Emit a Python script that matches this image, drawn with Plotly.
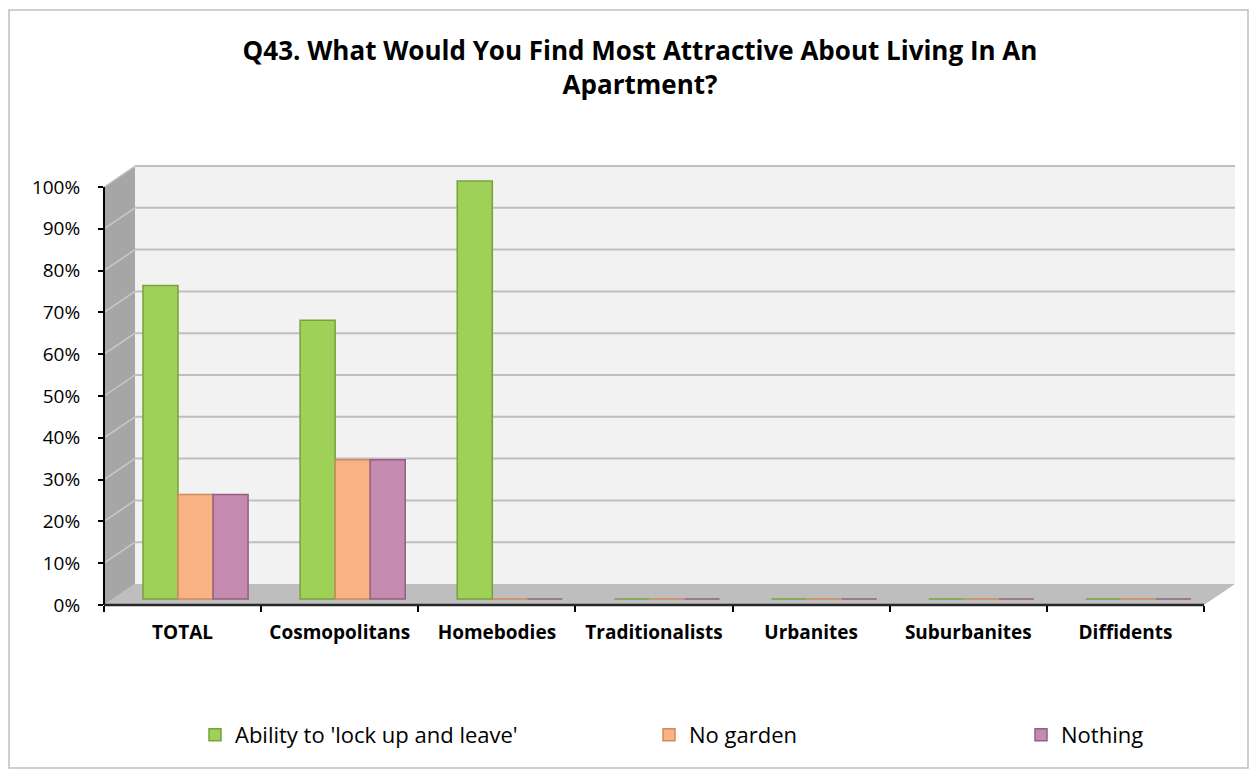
import plotly.graph_objects as go

# ---------------- data ----------------
categories = ["TOTAL", "Cosmopolitans", "Homebodies", "Traditionalists",
              "Urbanites", "Suburbanites", "Diffidents"]
series_names = ["Ability to 'lock up and leave'", "No garden", "Nothing"]
lock_up_and_leave = [0.75, 0.667, 1.0, 0, 0, 0, 0]
no_garden = [0.25, 0.333, 0, 0, 0, 0, 0]
nothing = [0.25, 0.333, 0, 0, 0, 0, 0]
y_tick_values = [0, 0.1, 0.2, 0.3, 0.4, 0.5, 0.6, 0.7, 0.8, 0.9, 1.0]
title_text = "Q43. What Would You Find Most Attractive About Living In An<br>Apartment?"

# ---------------- styling ----------------
PAGE_W, PAGE_H = 1257, 776
BODY = 8                                   # default html body margin
W, H = PAGE_W - BODY, PAGE_H - BODY        # figure size so it fits the window
L, R, T, B = 104, 1235, 165, 605           # plot area in page pixels
UNIT = 418.0                               # pixels per 100%
DEPTH_X, DEPTH_Y = 31, 21                  # 3-D wall offset
BAR_LIFT = 6                               # bars stand slightly behind front edge
FONT = "Open Sans"

face_colors = ["#9FD058", "#F8B283", "#C48AB0"]
edge_colors = ["#76A23A", "#CF8A5E", "#93617F"]
bar_width = 0.223
bar_offsets = [-0.252, -0.029, 0.194]
legend_x_px = [195, 649, 1021]
legend_y_px = 735


def px(x):
    return (x - L) / (R - L)


def py(y):
    return (B - y) / (B - T)


lift = BAR_LIFT / UNIT
y_span = (B - T) / UNIT

fig = go.Figure()
values = [lock_up_and_leave, no_garden, nothing]
for i, (name, vals) in enumerate(zip(series_names, values)):
    fig.add_trace(go.Bar(
        x=categories, y=vals, name=name,
        width=bar_width, offset=bar_offsets[i],
        marker=dict(color=face_colors[i], line=dict(color=edge_colors[i], width=1.5)),
        legend="legend" if i == 0 else f"legend{i + 1}",
        showlegend=True,
        hovertemplate="%{x}: %{y:.0%}<extra>" + name + "</extra>",
    ))

shapes = []
# back wall
shapes.append(dict(type="rect", xref="paper", yref="paper", layer="below",
                   x0=px(L + DEPTH_X), x1=px(R), y0=py(B - DEPTH_Y), y1=py(T),
                   fillcolor="#F2F2F2", line=dict(width=0)))
# floor
shapes.append(dict(type="path", xref="paper", yref="paper", layer="below",
                   path=f"M {px(L)},{py(B)} L {px(R - DEPTH_X)},{py(B)} "
                        f"L {px(R)},{py(B - DEPTH_Y)} L {px(L + DEPTH_X)},{py(B - DEPTH_Y)} Z",
                   fillcolor="#BEBEBE", line=dict(width=0)))
# side wall
top_px = B - UNIT
shapes.append(dict(type="path", xref="paper", yref="paper", layer="below",
                   path=f"M {px(L)},{py(B)} L {px(L + DEPTH_X)},{py(B - DEPTH_Y)} "
                        f"L {px(L + DEPTH_X)},{py(top_px - DEPTH_Y)} L {px(L)},{py(top_px)} Z",
                   fillcolor="#A6A6A6", line=dict(width=0)))
# grid lines on back wall and side wall
for v in y_tick_values[1:]:
    yp = B - v * UNIT
    shapes.append(dict(type="line", xref="paper", yref="paper", layer="below",
                       x0=px(L + DEPTH_X), x1=px(R), y0=py(yp - DEPTH_Y), y1=py(yp - DEPTH_Y),
                       line=dict(color="#BFBFBF", width=2)))
    shapes.append(dict(type="line", xref="paper", yref="paper", layer="below",
                       x0=px(L), x1=px(L + DEPTH_X), y0=py(yp), y1=py(yp - DEPTH_Y),
                       line=dict(color="#C9C9C9", width=1.5)))
# axis lines
shapes.append(dict(type="line", xref="paper", yref="paper", layer="above",
                   x0=0, x1=0, y0=py(B), y1=py(top_px),
                   line=dict(color="#000000", width=2)))
shapes.append(dict(type="line", xref="paper", yref="paper", layer="above",
                   x0=px(L), x1=px(R - DEPTH_X), y0=0, y1=0,
                   line=dict(color="#262626", width=2.5)))
# outer chart border
shapes.append(dict(type="rect", xref="paper", yref="paper", layer="above",
                   x0=px(9), x1=px(1248), y0=py(768), y1=py(10),
                   line=dict(color="#C0C0C0", width=1.5), fillcolor="rgba(0,0,0,0)"))

cat_px = (R - DEPTH_X - L) / len(categories)
x_range = [-0.5, -0.5 + (R - L) / cat_px]

legend_common = dict(orientation="h", yanchor="middle", xanchor="left",
                     font=dict(family=FONT, size=22, color="#000000"),
                     bgcolor="rgba(0,0,0,0)", itemwidth=30)

fig.update_layout(
    width=W, height=H, autosize=False,
    margin=dict(l=L - BODY, r=PAGE_W - R, t=T - BODY, b=PAGE_H - B, pad=0),
    paper_bgcolor="#FFFFFF", plot_bgcolor="rgba(0,0,0,0)",
    barmode="overlay",
    showlegend=True,
    title=dict(text="<b>" + title_text + "</b>", x=(640 - BODY) / W, xanchor="center",
               xref="container", y=1 - 52 / H, yanchor="top", yref="container",
               font=dict(family=FONT, size=26, color="#000000")),
    xaxis=dict(type="category", categoryorder="array", categoryarray=categories,
               range=x_range, tickson="boundaries", ticks="outside", ticklen=6,
               tickwidth=1.5, tickcolor="#000000", showgrid=False, zeroline=False,
               showline=False, ticklabelstandoff=14,
               tickfont=dict(family=FONT, size=19, color="#000000", weight="bold")),
    yaxis=dict(range=[-lift, y_span - lift],
               tickvals=[v - lift for v in y_tick_values],
               ticktext=[f"{v:.0%}" for v in y_tick_values],
               ticks="outside", ticklen=5, tickwidth=1.5, tickcolor="#000000",
               showgrid=False, zeroline=False, showline=False, ticklabelstandoff=14,
               tickfont=dict(family=FONT, size=19, color="#000000")),
    shapes=shapes,
    legend=dict(x=px(legend_x_px[0]), y=py(legend_y_px), **legend_common),
    legend2=dict(x=px(legend_x_px[1]), y=py(legend_y_px), **legend_common),
    legend3=dict(x=px(legend_x_px[2]), y=py(legend_y_px), **legend_common),
)

fig.write_html("out.html")
